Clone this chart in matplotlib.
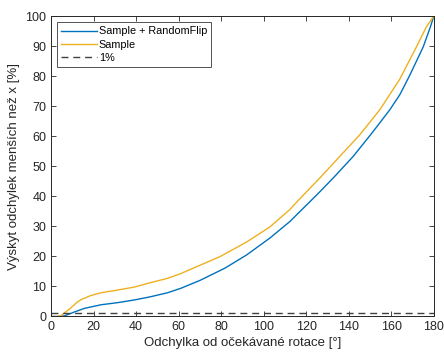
import matplotlib
matplotlib.use("Agg")
import matplotlib.pyplot as plt

# Data
x_flip = [0, 4, 6.3, 11, 15.7, 23.5, 31.3, 39.2, 47, 54.8, 61.1, 70, 81.8, 92, 102.9, 112.3, 117,
          125, 132.7, 142.1, 151.5, 159.3, 164, 168.7, 175, 178.4, 180]
y_flip = [0, 0, 0.2, 1.5, 2.7, 3.9, 4.6, 5.5, 6.6, 7.9, 9.4, 12, 16.1, 20.5, 26.1, 31.6, 34.9,
          40.5, 46.1, 53.3, 61.6, 68.8, 73.8, 80.3, 89.7, 96.4, 100]

x_samp = [0, 3, 4.7, 9.4, 12, 14.1, 18.8, 23.5, 31.3, 39.2, 47, 54.8, 61.1, 66.9, 79.4, 92, 102.9,
          112.3, 117, 126.4, 135.8, 145.2, 154.6, 164, 171.8, 176.5, 180]
y_samp = [0, 0, 0.3, 2.9, 4.6, 5.6, 7.0, 7.9, 8.8, 9.8, 11.3, 12.7, 14.3, 16.1, 19.9, 24.8, 29.8,
          35.6, 39.2, 46.1, 53.3, 60.5, 68.8, 79.0, 89.7, 96.4, 100]

ref_level = 1
labels = ["Sample + RandomFlip", "Sample", "1%"]
xticks = list(range(0, 181, 20))
yticks = list(range(0, 101, 10))

plt.rcParams['font.family'] = ['Liberation Sans', 'DejaVu Sans']
fig = plt.figure(figsize=(4.44, 3.58), dpi=100)
ax = fig.add_axes([0.115, 0.116, 0.862, 0.839])

ax.plot(x_flip, y_flip, color='#0072BD', lw=1.0, label=labels[0])
ax.plot(x_samp, y_samp, color='#EDB120', lw=1.0, label=labels[1])
ax.axhline(ref_level, color='#404040', lw=1.0, ls=(0, (5, 3.5)), label=labels[2])

ax.set_xlim(0, 180)
ax.set_ylim(0, 100)
ax.set_xticks(xticks)
ax.set_yticks(yticks)
ax.tick_params(direction='in', top=True, right=True, labelsize=9, colors='#262626', length=3.5, width=0.6)
for s in ax.spines.values():
    s.set_color('#262626')
    s.set_linewidth(0.7)

ax.set_xlabel("Odchylka od očekávané rotace [°]", fontsize=9.5, color='#262626', labelpad=3)
ax.set_ylabel("Výskyt odchylek menších než x [%]", fontsize=9.5, color='#262626', labelpad=4)

leg = ax.legend(loc='upper left', fontsize=7.8, frameon=True, fancybox=False,
                edgecolor='#262626', borderpad=0.4, labelspacing=0.3,
                handlelength=3.3, handletextpad=0.15, borderaxespad=0.55)
leg.get_frame().set_linewidth(0.7)

fig.savefig("out.png", dpi=100)
